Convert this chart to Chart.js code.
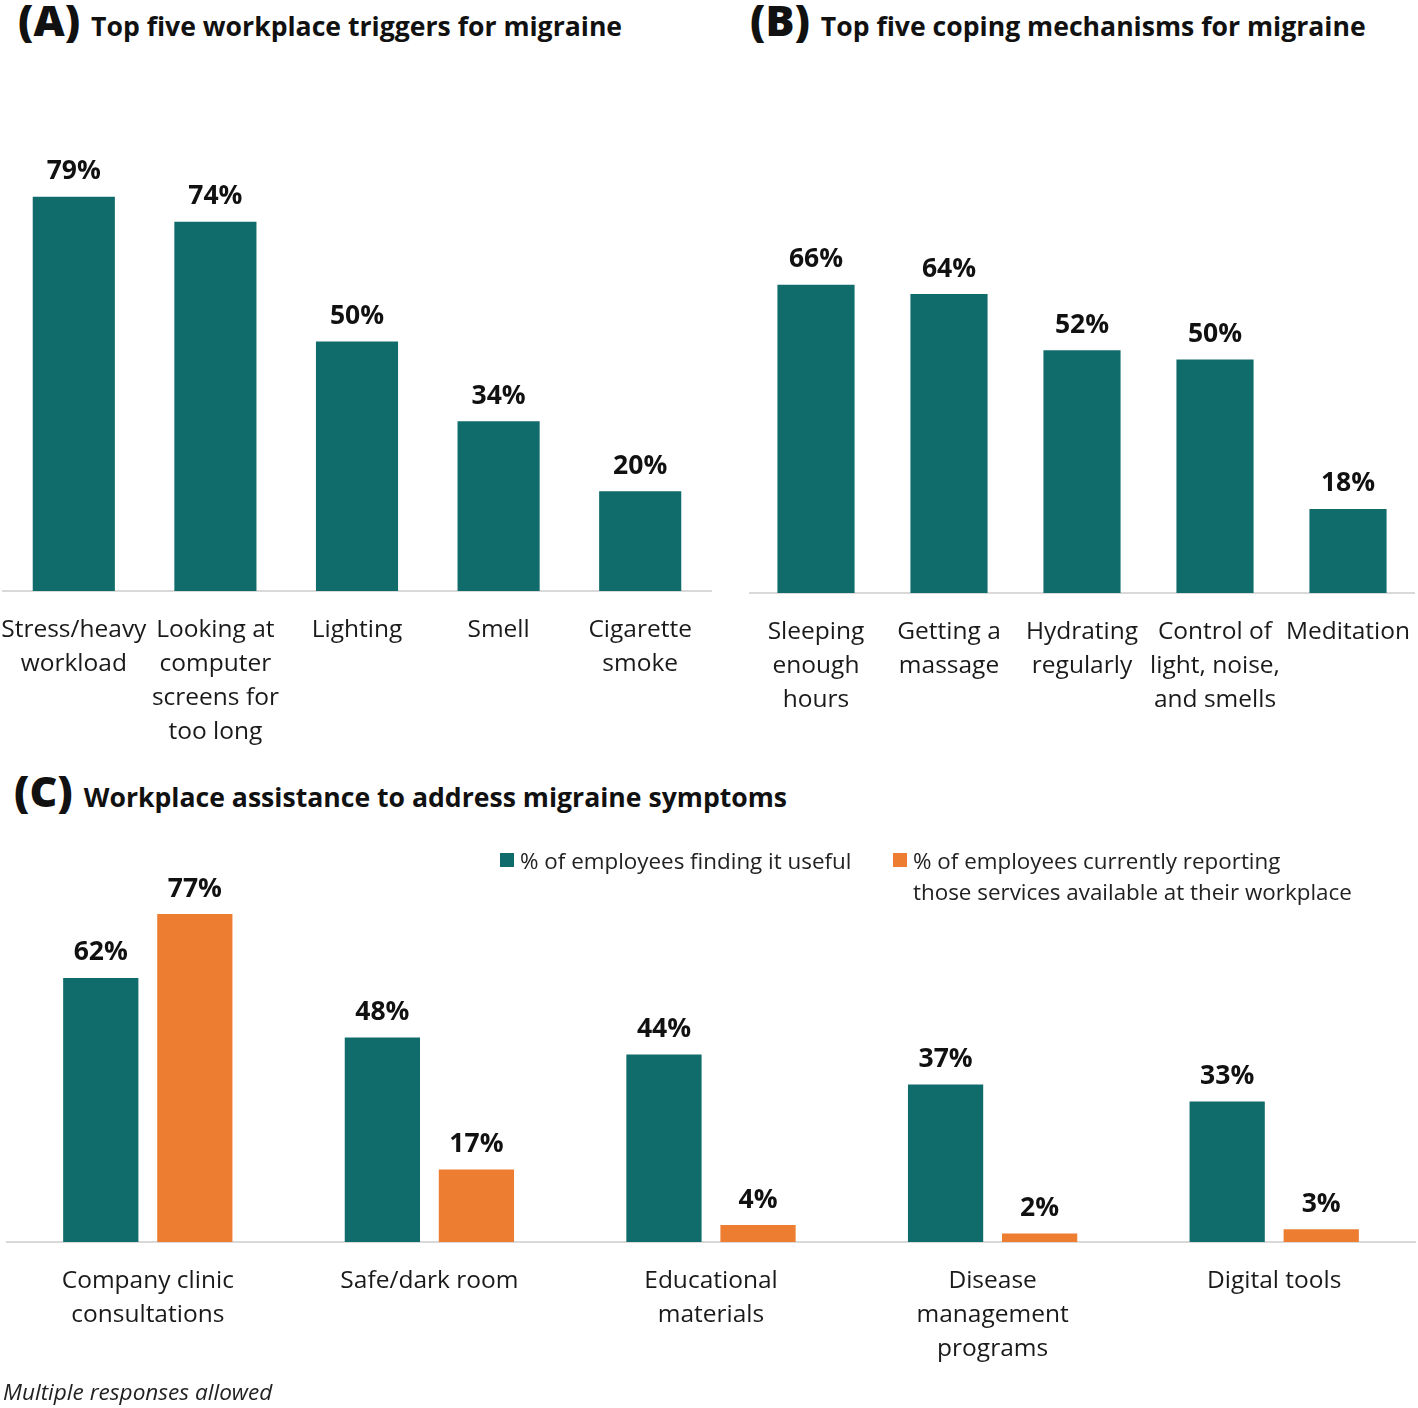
<!DOCTYPE html>
<html>
<head>
<meta charset="utf-8">
<script src="https://cdn.jsdelivr.net/npm/chart.js@4.4.1/dist/chart.umd.min.js"></script>
<style>
  body { margin:0; background:#fff; font-family:"Open Sans", sans-serif; color:#111; }
  #page { position:relative; width:1418px; height:1408px; overflow:hidden; }
  .box { position:absolute; }
  .title { position:absolute; white-space:nowrap; font-weight:700; font-size:26.6px; line-height:48px; }
  .title b { font-size:43px; margin-right:11px; }
  .legend { position:absolute; font-size:22.4px; line-height:31px; color:#222; }
  .sw { position:absolute; width:14px; height:14px; }
  .foot { position:absolute; left:3px; top:1376px; font-size:22.6px; font-style:italic; color:#222; }
</style>
</head>
<body>
<div id="page">
  <div class="title" style="left:18px;top:-4px"><b>(A)</b>Top five workplace triggers for migraine</div>
  <div class="title" style="left:750px;top:-4px"><b>(B)</b>Top five coping mechanisms for migraine</div>
  <div class="title" style="left:14px;top:767px"><b>(C)</b>Workplace assistance to address migraine symptoms</div>

  <div class="box" style="left:0;top:60px;width:720px;height:691px"><canvas id="chartA"></canvas></div>
  <div class="box" style="left:740px;top:60px;width:678px;height:693px"><canvas id="chartB"></canvas></div>
  <div class="box" style="left:0;top:800px;width:1418px;height:602px"><canvas id="chartC"></canvas></div>

  <div class="sw" style="left:500px;top:853px;background:#106b6b"></div>
  <div class="legend" style="left:520px;top:845px">% of employees finding it useful</div>
  <div class="sw" style="left:893px;top:853px;background:#ed7d31"></div>
  <div class="legend" style="left:913px;top:845px">% of employees currently reporting<br>those services available at their workplace</div>

  <div class="foot">Multiple responses allowed</div>
</div>
<script>
const teal = '#106b6b';
const orange = '#ed7d31';

// (A) workplace triggers
const triggerLabels = [['Stress/heavy','workload'], ['Looking at','computer','screens for','too long'], 'Lighting', 'Smell', ['Cigarette','smoke']];
const triggerValues = [79, 74, 50, 34, 20];

// (B) coping mechanisms
const copingLabels = [['Sleeping','enough','hours'], ['Getting a','massage'], ['Hydrating','regularly'], ['Control of','light, noise,','and smells'], 'Meditation'];
const copingValues = [66, 64, 52, 50, 18];

// (C) workplace assistance
const assistLabels = [['Company clinic','consultations'], 'Safe/dark room', ['Educational','materials'], ['Disease','management','programs'], 'Digital tools'];
const usefulValues = [62, 48, 44, 37, 33];
const availableValues = [77, 17, 4, 2, 3];

const valueLabels = {
  id: 'valueLabels',
  afterDatasetsDraw(chart){
    const ctx = chart.ctx;
    ctx.save();
    ctx.font = 'bold 26.5px "Open Sans"';
    ctx.fillStyle = '#111';
    ctx.textAlign = 'center';
    ctx.textBaseline = 'middle';
    chart.data.datasets.forEach((ds,i)=>{
      chart.getDatasetMeta(i).data.forEach((bar,j)=>{
        ctx.fillText(ds.data[j] + '%', bar.x, bar.y - 25);
      });
    });
    ctx.restore();
  }
};

function makeBar(id, labels, datasets, pad, catPct, barPct){
  return new Chart(document.getElementById(id), {
    type: 'bar',
    data: { labels, datasets: datasets.map(d=>({ data:d.data, backgroundColor:d.color, borderWidth:0,
      categoryPercentage:catPct, barPercentage:barPct })) },
    options: {
      responsive: true, maintainAspectRatio: false, animation: false,
      layout: { padding: pad },
      plugins: { legend:{display:false}, tooltip:{enabled:false} },
      scales: {
        y: { display:false, min:0, max:100 },
        x: {
          grid: { display:false, drawTicks:false },
          border: { display:true, color:'#d9d9d9', width:2 },
          ticks: { color:'#1a1a1a', padding:22, maxRotation:0, autoSkip:false,
            font:{ family:'"Open Sans"', size:24.5, lineHeight:1.39 } },
          afterFit: s => { s.height = 160; s.paddingLeft = 0; s.paddingRight = 0; }
        }
      }
    },
    plugins: [valueLabels]
  });
}

document.fonts.load('24px "Open Sans"').then(()=>document.fonts.load('bold 26px "Open Sans"')).then(()=>{
  makeBar('chartA', triggerLabels, [{data:triggerValues, color:teal}], {top:32, left:3, right:9, bottom:0}, 0.58, 1);
  makeBar('chartB', copingLabels, [{data:copingValues, color:teal}], {top:66, left:9.5, right:3.5, bottom:0}, 0.58, 1);
  makeBar('chartC', assistLabels, [{data:usefulValues, color:teal}, {data:availableValues, color:orange}],
    {top:16, left:7, right:3, bottom:0}, 0.668, 0.8);
});
</script>
</body>
</html>
